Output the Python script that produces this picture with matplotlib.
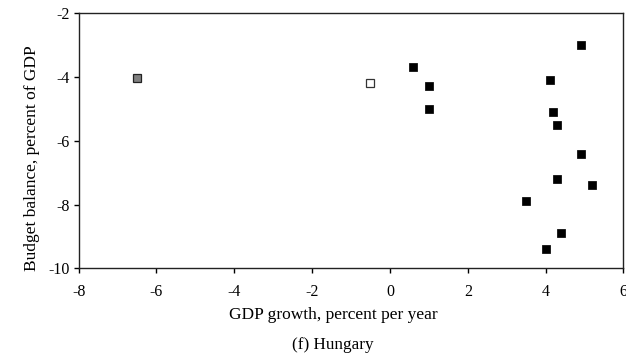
import matplotlib
matplotlib.use("Agg")
import matplotlib.pyplot as plt

plt.rcParams['font.family'] = ['Liberation Serif', 'DejaVu Serif']
plt.rcParams['axes.unicode_minus'] = False

# GDP growth (percent per year) and budget balance (percent of GDP)
growth_gray = [-6.5]
balance_gray = [-4.05]

growth_open = [-0.5]
balance_open = [-4.2]

growth_black = [0.6, 1.0, 1.0, 4.9, 4.1, 4.2, 4.3, 4.9, 4.3, 5.2, 3.5, 4.4, 4.0]
balance_black = [-3.7, -4.3, -5.0, -3.0, -4.1, -5.1, -5.5, -6.4, -7.2, -7.4, -7.9, -8.9, -9.4]

x_ticks = [-8, -6, -4, -2, 0, 2, 4, 6]
y_ticks = [-10, -8, -6, -4, -2]

fig = plt.figure(figsize=(6.26, 3.55), dpi=100)
ax = fig.add_axes([0.1255, 0.2437, 0.8705, 0.7197])

ms = 6
ax.plot(growth_gray, balance_gray, 's', ms=ms, mfc='#808080', mec='#222222', mew=0.9, clip_on=False)
ax.plot(growth_open, balance_open, 's', ms=ms, mfc='white', mec='#333333', mew=0.9, clip_on=False)
ax.plot(growth_black, balance_black, 's', ms=ms, mfc='black', mec='#111111', mew=0.6, clip_on=False)

ax.set_xlim(-8, 6)
ax.set_ylim(-10, -2)
ax.set_xticks(x_ticks)
ax.set_yticks(y_ticks)
ax.set_xticklabels([str(t) for t in x_ticks])
ax.set_yticklabels([str(t) for t in y_ticks])
ax.tick_params(direction='out', length=3.5, width=1, labelsize=11.5, colors='black')
ax.tick_params(axis='x', pad=8)
ax.tick_params(axis='y', pad=3)
for s in ax.spines.values():
    s.set_linewidth(1)
    s.set_color('#222222')

fig.text(0.051, 0.555, 'Budget balance, percent of GDP', rotation=90,
         ha='center', va='center', fontsize=12.5)
fig.text(0.532, 0.113, 'GDP growth, percent per year', ha='center', va='center', fontsize=12.5)
fig.text(0.532, 0.028, '(f) Hungary', ha='center', va='center', fontsize=12.3)

fig.savefig('out.png', dpi=100)
